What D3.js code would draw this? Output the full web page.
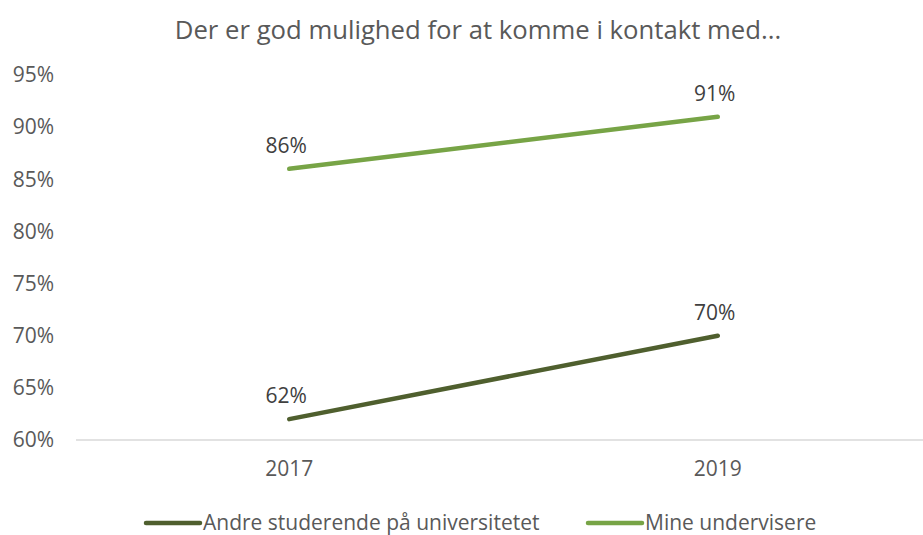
<!DOCTYPE html>
<html>
<head>
<meta charset="utf-8">
<script src="https://cdn.jsdelivr.net/npm/d3@7"></script>
<style>
  body { margin: 0; background: #fff; }
  text { font-family: "Open Sans", sans-serif; fill: #595959; }
</style>
</head>
<body>
<div id="chart"></div>
<script>
var years = ["2017", "2019"];
var andre = [62, 70];
var mine = [86, 91];
var seriesNames = ["Andre studerende på universitetet", "Mine undervisere"];
var yTicks = [60, 65, 70, 75, 80, 85, 90, 95];

var width = 923, height = 535;
var colors = ["#4F5F2E", "#77A446"];

var svg = d3.select("#chart").append("svg")
  .attr("width", width)
  .attr("height", height);

svg.append("text")
  .attr("x", 478).attr("y", 39)
  .attr("text-anchor", "middle")
  .style("font-size", "25.7px")
  .text("Der er god mulighed for at komme i kontakt med...");

var x = d3.scaleBand().domain(years).range([75, 932]);
var y = d3.scaleLinear().domain([60, 95]).range([440, 75]);

// y labels
svg.selectAll(".ylab").data(yTicks).enter().append("text")
  .attr("x", 54).attr("y", function(d) { return y(d); })
  .attr("dy", "0.35em")
  .attr("text-anchor", "end")
  .style("font-size", "21px")
  .text(function(d) { return d + "%"; });

// axis line
svg.append("line")
  .attr("x1", 76).attr("x2", 923)
  .attr("y1", y(60)).attr("y2", y(60))
  .attr("stroke", "#D9D9D9").attr("stroke-width", 1.3);

svg.selectAll(".xlab").data(years).enter().append("text")
  .attr("x", function(d) { return x(d) + x.bandwidth() / 2; })
  .attr("y", 476)
  .attr("text-anchor", "middle")
  .style("font-size", "21px")
  .text(function(d) { return d; });

var series = [andre, mine];
var line = d3.line()
  .x(function(d, i) { return x(years[i]) + x.bandwidth() / 2; })
  .y(function(d) { return y(d); });

series.forEach(function(vals, s) {
  svg.append("path")
    .datum(vals)
    .attr("d", line)
    .attr("fill", "none")
    .attr("stroke", colors[s])
    .attr("stroke-width", 4.5)
    .attr("stroke-linecap", "round");

  svg.selectAll(".lab" + s).data(vals).enter().append("text")
    .attr("x", function(d, i) { return x(years[i]) + x.bandwidth() / 2 - 3; })
    .attr("y", function(d) { return y(d) - 16; })
    .attr("text-anchor", "middle")
    .style("font-size", "21px")
    .style("fill", "#404040")
    .text(function(d) { return d + "%"; });
});

// legend
var legX = [146, 588];
seriesNames.forEach(function(name, s) {
  svg.append("line")
    .attr("x1", legX[s]).attr("x2", legX[s] + 54)
    .attr("y1", 523).attr("y2", 523)
    .attr("stroke", colors[s]).attr("stroke-width", 4.5)
    .attr("stroke-linecap", "round");
  svg.append("text")
    .attr("x", legX[s] + 57).attr("y", 523)
    .attr("dy", "0.35em")
    .style("font-size", "21px")
    .text(name);
});
</script>
</body>
</html>
